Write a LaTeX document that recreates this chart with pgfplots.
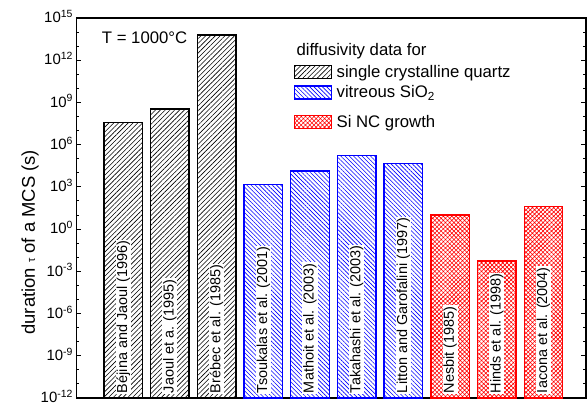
\documentclass[border=0pt]{standalone}
\usepackage{pgfplots}
\pgfplotsset{compat=1.18}
\usepackage{pgfplotstable}
\usepackage{fontspec}
\setmainfont{Liberation Sans}
\usetikzlibrary{patterns.meta}

% MCS duration at T = 1000 C, one table per source of diffusivity data
\pgfplotstableread{
x  y
1  3.6e7
2  3.4e8
3  6.2e13
}\quartz
\pgfplotstableread{
x  y
4  1.5e3
5  1.35e4
6  1.66e5
7  4.7e4
}\vitreous
\pgfplotstableread{
x  y
8  10
9  5.4e-3
10 39
}\ncgrowth

\definecolor{qblue}{RGB}{0,0,255}
\definecolor{qred}{RGB}{255,0,0}

% legend swatch: an outlined, hatched box
\pgfplotsset{box legend/.style={legend image code/.code={%
  \draw[##1, line width=1.4bp] (0bp,-6.5bp) rectangle (37bp,6.5bp);}}}

\begin{document}
\begin{tikzpicture}
\begin{axis}[
  scale only axis, width=509.5bp, height=380bp,
  xmin=0, xmax=10.91,
  ymode=log, ymin=1e-12, ymax=1e15, log origin=infty,
  ytick={1e-12,1e-9,1e-6,1e-3,1,1e3,1e6,1e9,1e12,1e15},
  yticklabels={10\textsuperscript{-12},10\textsuperscript{-9},10\textsuperscript{-6},10\textsuperscript{-3},10\textsuperscript{0},10\textsuperscript{3},10\textsuperscript{6},10\textsuperscript{9},10\textsuperscript{12},10\textsuperscript{15}},
  minor ytick={1e-11,1e-10,1e-8,1e-7,1e-5,1e-4,1e-2,1e-1,1e1,1e2,1e4,1e5,1e7,1e8,1e10,1e11,1e13,1e14},
  xtick=\empty,
  minor xtick={0.5,1,...,10.5},
  major tick length=5bp, minor tick length=3bp,
  tick align=inside,
  every tick/.style={black, line width=1bp},
  axis line style={line width=1.1bp},
  tick label style={font=\fontsize{15}{16}\selectfont},
  yticklabel style={yshift=1.5bp},
  ylabel={duration {\fontsize{11}{11}\selectfont τ} of a MCS (s)},
  ylabel style={at={(axis description cs:-0.091,0.41)}, anchor=center, font=\fontsize{18.5}{20}\selectfont},
  ybar, bar width=38.5bp,
  box legend,
  legend style={at={(rel axis cs:0.426,0.881)}, anchor=north west, draw=none, fill=none,
    font=\fontsize{16.8}{18}\selectfont, inner sep=0pt, row sep=4bp,
    nodes={inner sep=1.5bp}},
  legend cell align=left,
]
\addplot[bar shift=0pt, draw=black, line width=1.4bp,
  pattern={Lines[angle=45, distance=3.4bp, line width=0.6bp]}, pattern color=black]
  table[x=x, y=y] {\quartz};
\addlegendentry{\hspace{3bp}single crystalline quartz}
\addplot[bar shift=0pt, draw=qblue, line width=1.4bp,
  pattern={Lines[angle=-45, distance=3bp, line width=0.6bp]}, pattern color=qblue]
  table[x=x, y=y] {\vitreous};
\addlegendentry{\hspace{3bp}vitreous SiO\textsubscript{2}}
% thin spacer row below the subscript entry
\addlegendimage{empty legend}
\addlegendentry{\fontsize{1}{1}\selectfont\strut}
\addplot[bar shift=0pt, draw=qred, line width=1.4bp,
  pattern={Hatch[angle=45, distance=3bp, line width=0.6bp]}, pattern color=qred]
  table[x=x, y=y] {\ncgrowth};
\addlegendentry{\hspace{3bp}Si NC growth}

% source labels written up the bars
\foreach \i/\t in {1/Béjina and Jaoul (1996), 2/Jaoul et a. (1995), 3/Brébec et al. (1985),
  4/Tsoukalas et al. (2001), 5/Mathoit et al. (2003), 6/Takahashi et al. (2003),
  7/Litton and Garofalini (1997), 8/Nesbit (1985), 9/Hinds et al. (1998), 10/Iacona et al. (2004)} {
  \edef\temp{\noexpand\node[rotate=90, anchor=west, fill=white, inner sep=0.8bp,
    font=\noexpand\fontsize{14.5}{15}\noexpand\selectfont]
    at ([yshift=4bp]axis cs:\i,1e-12) {\t};}
  \temp
}

\node[anchor=base west, font=\fontsize{16.8}{18}\selectfont] at (rel axis cs:0.043,0.933) {T = 1000°C};
\node[anchor=base west, font=\fontsize{16.8}{18}\selectfont] at (rel axis cs:0.425,0.9) {diffusivity data for};
\end{axis}
\pgfresetboundingbox
\path[use as bounding box] (-76.5bp,-7bp) rectangle (510.5bp,398bp);
\end{tikzpicture}
\end{document}
